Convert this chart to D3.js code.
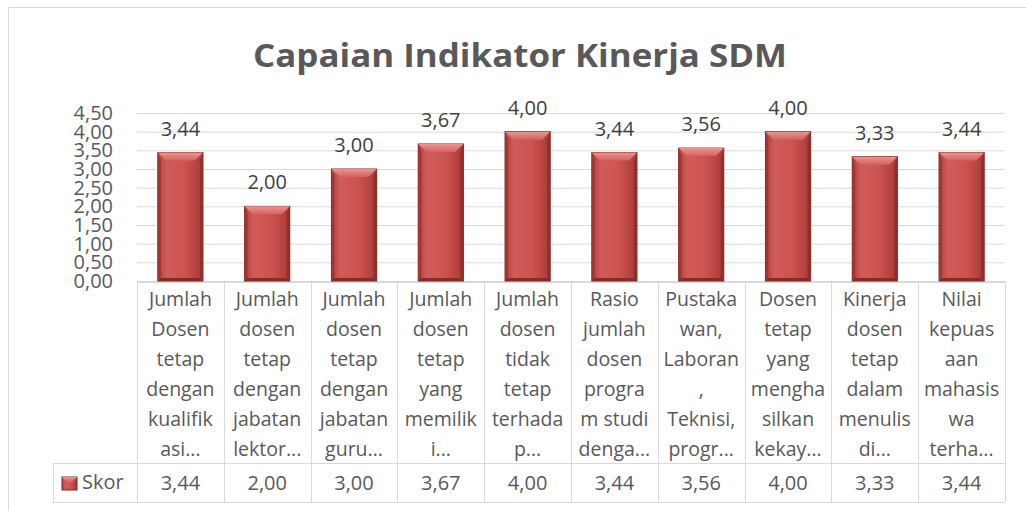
<!DOCTYPE html>
<html>
<head>
<meta charset="utf-8">
<script src="https://cdn.jsdelivr.net/npm/d3@7"></script>
<style>
  body { margin: 0; background: #fff; }
  svg text { font-family: "Open Sans", sans-serif; }
</style>
</head>
<body>
<div id="chart"></div>
<script>
// data
let categories = [
  ["Jumlah", "Dosen", "tetap", "dengan", "kualifik", "asi..."],
  ["Jumlah", "dosen", "tetap", "dengan", "jabatan", "lektor..."],
  ["Jumlah", "dosen", "tetap", "dengan", "jabatan", "guru..."],
  ["Jumlah", "dosen", "tetap", "yang", "memilik", "i..."],
  ["Jumlah", "dosen", "tidak", "tetap", "terhada", "p..."],
  ["Rasio", "jumlah", "dosen", "progra", "m studi", "denga..."],
  ["Pustaka", "wan,", "Laboran", ",", "Teknisi,", "progr..."],
  ["Dosen", "tetap", "yang", "mengha", "silkan", "kekay..."],
  ["Kinerja", "dosen", "tetap", "dalam", "menulis", "di..."],
  ["Nilai", "kepuas", "aan", "mahasis", "wa", "terha..."]
]
let skor = [3.44, 2.00, 3.00, 3.67, 4.00, 3.44, 3.56, 4.00, 3.33, 3.44]
let yTicks = [0, 0.5, 1, 1.5, 2, 2.5, 3, 3.5, 4, 4.5]
let seriesName = "Skor"
let title = "Capaian Indikator Kinerja SDM"

let W = 1026, H = 511
let plot = {left: 137, right: 1005, top: 113, bottom: 281}
let tableTop = 282, rowSep = 463, tableBottom = 502, legendLeft = 53
let gridColor = "#d9d9d9", textColor = "#595959"

let fmt = d3.formatLocale({decimal: ",", thousands: ".", grouping: [3], currency: ["", ""]}).format(".2f")

let svg = d3.select("#chart").append("svg")
    .attr("width", W)
    .attr("height", H)

// gradients for the bevelled bars
let defs = svg.append("defs")
let body = defs.append("linearGradient").attr("id", "barBody")
body.append("stop").attr("offset", "0%").attr("stop-color", "#b0403d")
body.append("stop").attr("offset", "20%").attr("stop-color", "#d05c59")
body.append("stop").attr("offset", "60%").attr("stop-color", "#cc5350")
body.append("stop").attr("offset", "100%").attr("stop-color", "#a83a37")
let topG = defs.append("linearGradient").attr("id", "barTop")
    .attr("x1", 0).attr("y1", 0).attr("x2", 0).attr("y2", 1)
topG.append("stop").attr("offset", "0%").attr("stop-color", "#e99592")
topG.append("stop").attr("offset", "100%").attr("stop-color", "#d4625f")

// outer chart border
svg.append("path")
    .attr("d", "M8.5,511 V7.5 H1026")
    .attr("fill", "none")
    .attr("stroke", gridColor)

// title
svg.append("text")
    .attr("x", 520)
    .attr("y", 67)
    .attr("text-anchor", "middle")
    .attr("font-size", 33)
    .attr("font-weight", "bold")
    .attr("fill", textColor)
    .attr("textLength", 534)
    .attr("lengthAdjust", "spacingAndGlyphs")
    .text(title)

// scales
let x = d3.scaleBand()
    .domain(d3.range(skor.length))
    .range([plot.left, plot.right])
    .paddingInner(0.48)
    .paddingOuter(0.24)

let y = d3.scaleLinear()
    .domain([0, 4.5])
    .range([plot.bottom, plot.top])

// gridlines
let grid = svg.append("g")
    .attr("transform", "translate(" + plot.left + ",0)")
    .call(d3.axisLeft(y).tickValues(yTicks).tickSize(-(plot.right - plot.left)).tickFormat(""))
grid.select(".domain").remove()
grid.selectAll("line").attr("stroke", gridColor)

// y axis labels (they crowd each other in the original too)
let yAxis = svg.append("g")
    .attr("transform", "translate(" + plot.left + ",0)")
    .call(d3.axisLeft(y).tickValues(yTicks).tickSize(0).tickPadding(24).tickFormat(fmt))
yAxis.select(".domain").remove()
yAxis.selectAll("text")
    .attr("font-size", 20)
    .attr("font-family", "Open Sans, sans-serif")
    .attr("fill", textColor)

// bars
let bev = 8, side = 3
let bars = svg.selectAll(".bar")
    .data(skor)
    .enter()
    .append("g")
    .attr("class", "bar")

bars.append("rect")
    .attr("x", function (d, i) {return x(i);})
    .attr("y", function (d) {return y(d);})
    .attr("width", x.bandwidth())
    .attr("height", function (d) {return y(0) - y(d);})
    .attr("fill", "url(#barBody)")
    .attr("stroke", "#7d2826")
    .attr("stroke-width", 1)

bars.append("path")
    .attr("d", function (d, i) {
        let x0 = x(i), x1 = x(i) + x.bandwidth(), t = y(d)
        return "M" + x0 + "," + t + "L" + x1 + "," + t + "L" + (x1 - bev) + "," + (t + bev) +
            "L" + (x0 + bev) + "," + (t + bev) + "Z"
    })
    .attr("fill", "url(#barTop)")

bars.append("path")
    .attr("d", function (d, i) {
        let x0 = x(i), t = y(d), b = y(0)
        return "M" + x0 + "," + t + "L" + (x0 + side) + "," + (t + bev) + "L" + (x0 + side) + "," + (b - side) +
            "L" + x0 + "," + b + "Z"
    })
    .attr("fill", "#a03633")

bars.append("path")
    .attr("d", function (d, i) {
        let x1 = x(i) + x.bandwidth(), t = y(d), b = y(0)
        return "M" + x1 + "," + t + "L" + (x1 - side) + "," + (t + bev) + "L" + (x1 - side) + "," + (b - side) +
            "L" + x1 + "," + b + "Z"
    })
    .attr("fill", "#922e2b")

bars.append("path")
    .attr("d", function (d, i) {
        let x0 = x(i), x1 = x(i) + x.bandwidth(), b = y(0)
        return "M" + x0 + "," + b + "L" + (x0 + side) + "," + (b - side) + "L" + (x1 - side) + "," + (b - side) +
            "L" + x1 + "," + b + "Z"
    })
    .attr("fill", "#8a2a27")

// value labels above bars
svg.selectAll(".val")
    .data(skor)
    .enter()
    .append("text")
    .attr("class", "val")
    .attr("x", function (d, i) {return x(i) + x.bandwidth() / 2;})
    .attr("y", function (d) {return y(d) - 17;})
    .attr("text-anchor", "middle")
    .attr("font-size", 20)
    .attr("fill", "#404040")
    .text(fmt)

// data table
let step = x.step()
let table = svg.append("g")
    .attr("stroke", gridColor)
    .attr("stroke-width", 1)
    .attr("fill", "none")

table.append("line").attr("x1", plot.left).attr("x2", plot.right).attr("y1", tableTop + 0.5).attr("y2", tableTop + 0.5)
table.append("line").attr("x1", legendLeft).attr("x2", plot.right).attr("y1", rowSep + 0.5).attr("y2", rowSep + 0.5)
table.append("line").attr("x1", legendLeft).attr("x2", plot.right).attr("y1", tableBottom + 0.5).attr("y2", tableBottom + 0.5)
table.append("line").attr("x1", legendLeft + 0.5).attr("x2", legendLeft + 0.5).attr("y1", rowSep).attr("y2", tableBottom)

table.selectAll(".sep")
    .data(d3.range(skor.length + 1))
    .enter()
    .append("line")
    .attr("class", "sep")
    .attr("x1", function (i) {return Math.round(plot.left + i * step) + 0.5;})
    .attr("x2", function (i) {return Math.round(plot.left + i * step) + 0.5;})
    .attr("y1", tableTop)
    .attr("y2", tableBottom)

// category labels (wrapped as in the original)
svg.selectAll(".cat")
    .data(categories)
    .enter()
    .append("text")
    .attr("class", "cat")
    .attr("text-anchor", "middle")
    .attr("font-size", 19.5)
    .attr("fill", textColor)
    .each(function (lines, i) {
        let cx = x(i) + x.bandwidth() / 2
        d3.select(this).selectAll("tspan")
            .data(lines)
            .enter()
            .append("tspan")
            .attr("x", cx)
            .attr("y", function (l, j) {return 306 + j * 30;})
            .text(function (l) {return l;})
    })

// values row
svg.selectAll(".cell")
    .data(skor)
    .enter()
    .append("text")
    .attr("class", "cell")
    .attr("x", function (d, i) {return x(i) + x.bandwidth() / 2;})
    .attr("y", 490)
    .attr("text-anchor", "middle")
    .attr("font-size", 20)
    .attr("fill", textColor)
    .text(fmt)

// legend key in the table
svg.append("rect")
    .attr("x", 62).attr("y", 477)
    .attr("width", 15).attr("height", 13)
    .attr("fill", "url(#barBody)")
    .attr("stroke", "#7d2826")
svg.append("path")
    .attr("d", "M62,477 L77,477 L72,482 L67,482 Z")
    .attr("fill", "url(#barTop)")
svg.append("text")
    .attr("x", 82).attr("y", 489)
    .attr("font-size", 20)
    .attr("fill", textColor)
    .text(seriesName)
</script>
</body>
</html>
